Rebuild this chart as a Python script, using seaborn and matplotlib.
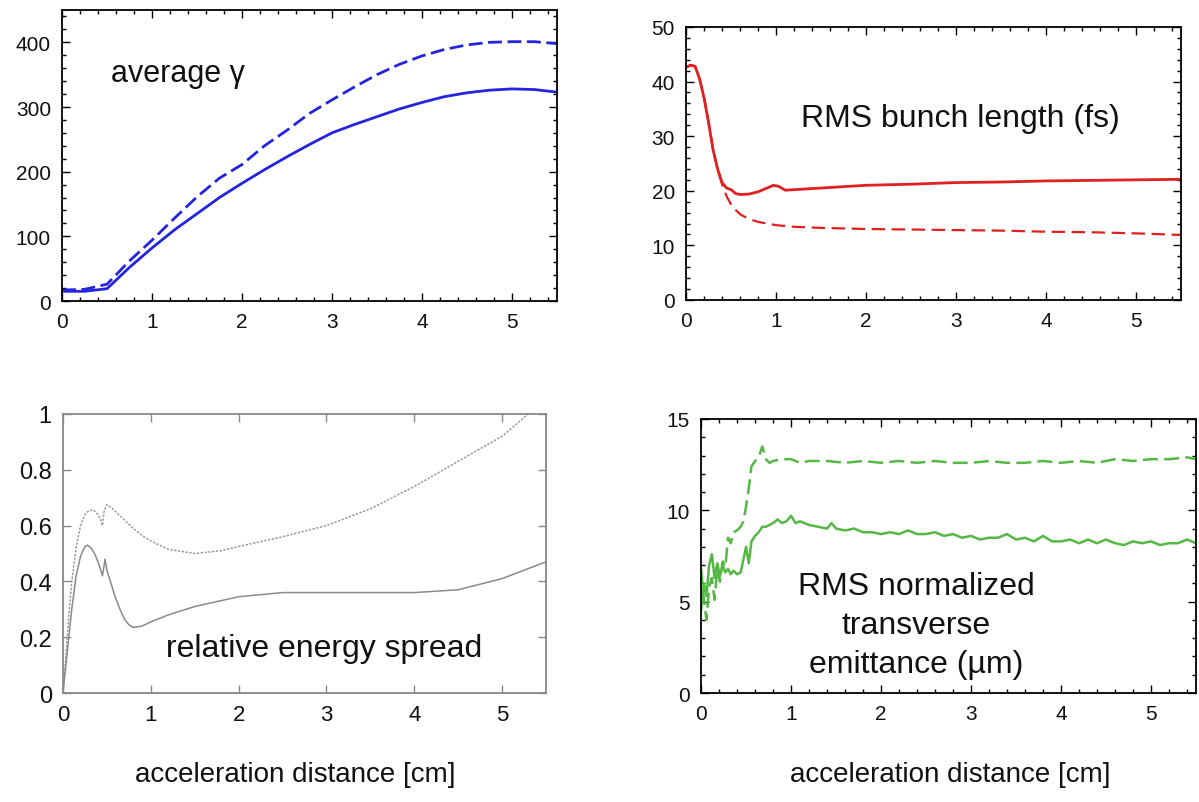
import numpy as np
import pandas as pd
import matplotlib
matplotlib.use("Agg")
import matplotlib.pyplot as plt
from matplotlib.ticker import MultipleLocator
import seaborn as sns

# average gamma (top left)
gam_x = [0, 0.25, 0.5, 0.75, 1, 1.25, 1.5, 1.75, 2, 2.25, 2.5, 2.75, 3, 3.25, 3.5, 3.75, 4, 4.25, 4.5, 4.75, 5, 5.25, 5.5]
gam_solid = [15, 15, 19, 52, 82, 110, 135, 160, 182, 203, 223, 242, 260, 273, 285, 297, 307, 316, 322, 326, 328, 327, 323]
gam_dash = [17, 18, 26, 62, 94, 128, 161, 190, 211, 240, 264, 290, 311, 331, 350, 366, 379, 389, 396, 400, 401, 401, 398]

# RMS bunch length (top right)
bl_x_solid = [0, 0.05, 0.1, 0.15, 0.2, 0.25, 0.3, 0.35, 0.4, 0.45, 0.5, 0.55, 0.6, 0.7, 0.8, 0.9, 0.97, 1.03, 1.1, 1.2, 1.5, 2, 2.5, 3, 3.5, 4, 4.5, 5, 5.5]
bl_solid = [42.6, 43, 42.8, 40.5, 37, 32.5, 27.5, 24, 21.5, 20.5, 20.2, 19.5, 19.3, 19.4, 19.8, 20.5, 21, 20.8, 20.1, 20.2, 20.5, 21, 21.2, 21.5, 21.6, 21.8, 21.9, 22, 22.1]
bl_x_dash = [0, 0.05, 0.1, 0.15, 0.2, 0.25, 0.3, 0.35, 0.4, 0.45, 0.5, 0.55, 0.6, 0.7, 0.8, 0.9, 1.0, 1.2, 1.5, 2, 2.5, 3, 3.5, 4, 4.5, 5, 5.5]
bl_dash = [42.6, 43, 42.8, 40.5, 37, 32.5, 27.5, 24, 21.2, 19, 17.5, 16.5, 15.7, 14.8, 14.3, 14, 13.7, 13.4, 13.2, 13.0, 12.9, 12.8, 12.7, 12.5, 12.4, 12.2, 11.9]

# relative energy spread (bottom left)
es_x_up = [0, 0.03, 0.06, 0.1, 0.15, 0.2, 0.25, 0.3, 0.35, 0.4, 0.43, 0.45, 0.47, 0.5, 0.55, 0.6, 0.7, 0.8, 0.9, 1.0, 1.2, 1.5, 1.8, 2.0, 2.5, 3.0, 3.5, 4.0, 4.5, 5.0, 5.3, 5.5]
es_up = [0, 0.12, 0.25, 0.4, 0.52, 0.6, 0.64, 0.655, 0.655, 0.64, 0.62, 0.6, 0.655, 0.675, 0.665, 0.65, 0.62, 0.59, 0.565, 0.545, 0.515, 0.5, 0.51, 0.525, 0.56, 0.6, 0.66, 0.74, 0.83, 0.92, 1.0, 1.05]
es_x_lo = [0, 0.05, 0.1, 0.15, 0.2, 0.25, 0.28, 0.32, 0.36, 0.4, 0.43, 0.45, 0.47, 0.48, 0.5, 0.55, 0.6, 0.65, 0.7, 0.75, 0.8, 0.9, 1.0, 1.2, 1.5, 2.0, 2.5, 3.0, 3.5, 4.0, 4.5, 5.0, 5.5]
es_lo = [0, 0.15, 0.3, 0.42, 0.49, 0.525, 0.53, 0.52, 0.5, 0.47, 0.44, 0.42, 0.46, 0.48, 0.44, 0.39, 0.34, 0.3, 0.265, 0.245, 0.235, 0.24, 0.255, 0.28, 0.31, 0.345, 0.36, 0.36, 0.36, 0.36, 0.37, 0.41, 0.47]

# RMS normalized transverse emittance (bottom right)
em_x_solid = [0.0, 0.03, 0.06, 0.09, 0.12, 0.15, 0.18, 0.21, 0.24, 0.27, 0.3, 0.33, 0.36, 0.4, 0.44, 0.47, 0.5, 0.53, 0.56, 0.6,
              0.64, 0.68, 0.72, 0.76, 0.8, 0.85, 0.9, 0.95, 1.0, 1.05, 1.1, 1.2, 1.3, 1.4, 1.45, 1.5, 1.6, 1.7, 1.8, 1.9,
              2.0, 2.1, 2.2, 2.3, 2.4, 2.5, 2.6, 2.7, 2.8, 2.9, 3.0, 3.1, 3.2, 3.3, 3.4, 3.5, 3.6, 3.7, 3.8, 3.9,
              4.0, 4.1, 4.2, 4.3, 4.4, 4.5, 4.6, 4.7, 4.8, 4.9, 5.0, 5.1, 5.2, 5.3, 5.4, 5.5]
em_solid = [4.5, 6.0, 5.3, 7.0, 7.6, 6.3, 7.1, 6.4, 7.0, 6.6, 6.8, 6.5, 6.7, 6.5, 6.6, 7.3, 8.0, 7.1, 8.3, 8.6,
            8.8, 9.1, 9.1, 9.2, 9.3, 9.5, 9.3, 9.4, 9.7, 9.3, 9.4, 9.2, 9.1, 9.0, 9.3, 9.0, 8.9, 9.0, 8.8, 8.8,
            8.7, 8.8, 8.7, 8.9, 8.7, 8.7, 8.8, 8.6, 8.7, 8.5, 8.6, 8.4, 8.5, 8.5, 8.7, 8.4, 8.5, 8.3, 8.6, 8.3,
            8.3, 8.4, 8.2, 8.4, 8.2, 8.4, 8.2, 8.1, 8.3, 8.2, 8.3, 8.1, 8.2, 8.2, 8.4, 8.2]
em_x_dash = [0.0, 0.03, 0.06, 0.09, 0.12, 0.15, 0.18, 0.21, 0.24, 0.27, 0.3, 0.33, 0.36, 0.4, 0.44, 0.47, 0.5, 0.53, 0.56, 0.6,
             0.64, 0.68, 0.72, 0.76, 0.8, 0.9, 1.0, 1.1, 1.2, 1.4, 1.6, 1.8, 2.0, 2.2, 2.4, 2.6, 2.8, 3.0, 3.2, 3.4,
             3.6, 3.8, 4.0, 4.2, 4.4, 4.6, 4.8, 5.0, 5.2, 5.4, 5.5]
em_dash = [6.8, 5.2, 4.0, 5.8, 6.3, 5.1, 6.8, 6.1, 7.2, 6.9, 8.5, 8.2, 8.8, 8.9, 9.1, 9.4, 10.2, 11.2, 12.4, 12.7,
           12.9, 13.5, 12.8, 12.6, 12.7, 12.8, 12.8, 12.6, 12.7, 12.7, 12.6, 12.7, 12.6, 12.7, 12.6, 12.7, 12.6, 12.6, 12.7, 12.6,
           12.6, 12.7, 12.6, 12.7, 12.6, 12.8, 12.7, 12.8, 12.8, 12.9, 12.8]

xticks = [0, 1, 2, 3, 4, 5]
xlabel = "acceleration distance [cm]"

sns.set_theme(style="ticks")
plt.rcParams['font.family'] = ['Liberation Sans', 'DejaVu Sans']

fig = plt.figure(figsize=(11.99, 8.03), dpi=100)
ax1 = fig.add_axes([0.0517, 0.6239, 0.4128, 0.3624])
ax2 = fig.add_axes([0.5722, 0.6252, 0.4128, 0.3400])
ax3 = fig.add_axes([0.0525, 0.1357, 0.4028, 0.3475])
ax4 = fig.add_axes([0.5847, 0.1357, 0.4128, 0.3413])


def style(ax, ymax, ymaj, ymin, xminor, edge="black", size=15):
    ax.set_xlim(0, 5.5)
    ax.set_ylim(0, ymax)
    ax.set_xticks(xticks)
    ax.yaxis.set_major_locator(MultipleLocator(ymaj))
    if ymin:
        ax.yaxis.set_minor_locator(MultipleLocator(ymin))
    if xminor:
        ax.xaxis.set_minor_locator(MultipleLocator(0.2))
    ax.tick_params(which="both", direction="in", top=True, right=True, color=edge,
                   labelsize=size, labelcolor="#111111")
    ax.tick_params(which="major", length=6, width=1)
    ax.tick_params(which="minor", length=3, width=1)
    ax.tick_params(axis="x", pad=8)
    ax.tick_params(axis="y", pad=8)
    for sp in ax.spines.values():
        sp.set_visible(True)
        sp.set_color(edge)
        sp.set_linewidth(1.3)
    ax.set_xlabel("")
    ax.set_ylabel("")


# top left
sns.lineplot(x=gam_x, y=gam_solid, ax=ax1, color="#2424dc", lw=2, estimator=None)
sns.lineplot(x=gam_x, y=gam_dash, ax=ax1, color="#2424dc", lw=2, linestyle=(0, (5, 2)), estimator=None)
style(ax1, 450, 100, 20, True)
ax1.text(0.55, 353, "average γ", fontsize=22, color="#111111", va="center")

# top right
sns.lineplot(x=bl_x_solid, y=bl_solid, ax=ax2, color="#e02020", lw=2, estimator=None)
sns.lineplot(x=bl_x_dash, y=bl_dash, ax=ax2, color="#e02020", lw=1.6, linestyle=(0, (6, 3)), estimator=None)
style(ax2, 50, 10, 2, True)
ax2.text(3.05, 33.3, "RMS bunch length (fs)", fontsize=23, color="#111111", ha="center", va="center")

# bottom left
sns.lineplot(x=es_x_up, y=es_up, ax=ax3, color="#9a9a9a", lw=1.1, linestyle=(0, (1.5, 1)), estimator=None)
sns.lineplot(x=es_x_lo, y=es_lo, ax=ax3, color="#8a8a8a", lw=1.1, estimator=None)
style(ax3, 1, 0.2, None, False, edge="#888888", size=16)
ax3.set_yticks([0, 0.2, 0.4, 0.6, 0.8, 1])
ax3.set_yticklabels(["0", "0.2", "0.4", "0.6", "0.8", "1"], fontsize=17)
ax3.text(2.97, 0.16, "relative energy spread", fontsize=23, color="#111111", ha="center", va="center")

# bottom right
sns.lineplot(x=em_x_solid, y=em_solid, ax=ax4, color="#55b845", lw=1.8, estimator=None)
sns.lineplot(x=em_x_dash, y=em_dash, ax=ax4, color="#55b845", lw=1.8, linestyle=(0, (6, 2.5)), estimator=None)
style(ax4, 15, 5, 1, True)
ax4.text(2.39, 3.72, "RMS normalized\ntransverse\nemittance (µm)", fontsize=23, color="#111111",
         ha="center", va="center", linespacing=1.4)

fig.text(295 / 1199, 1 - 775 / 803, xlabel, fontsize=20, ha="center", va="center", color="#111111")
fig.text(950 / 1199, 1 - 775 / 803, xlabel, fontsize=20, ha="center", va="center", color="#111111")

fig.savefig("out.png", dpi=100, facecolor="white")
